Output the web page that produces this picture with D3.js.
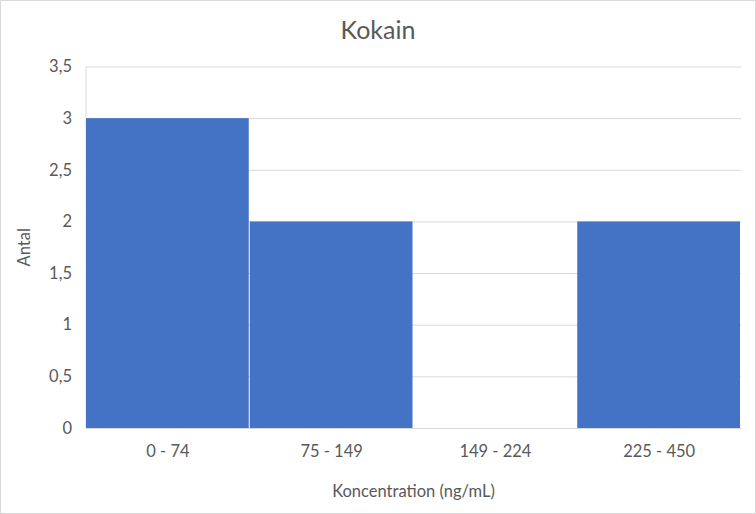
<!DOCTYPE html>
<html><head><meta charset="utf-8">
<script src="https://cdn.jsdelivr.net/npm/d3@7"></script>
<style>body{margin:0;background:#fff}svg{display:block}</style>
</head><body>
<script>
const categories = ["0 - 74", "75 - 149", "149 - 224", "225 - 450"];
const values = [3, 2, 0, 2];
const yTicks = [0, 0.5, 1, 1.5, 2, 2.5, 3, 3.5];
const title = "Kokain";
const xTitle = "Koncentration (ng/mL)";
const yTitle = "Antal";

const W = 756, H = 514;
const m = {left: 86, right: 15, top: 66.5, bottom: 86};
const font = "Lato, 'Open Sans', sans-serif";
const svg = d3.select("body").append("svg").attr("width", W).attr("height", H);
svg.append("rect").attr("x", 0.5).attr("y", 0.5).attr("width", W - 1).attr("height", H - 1)
  .attr("fill", "#fff").attr("stroke", "#d9d9d9");

const x = d3.scaleBand().domain(categories).range([m.left, W - m.right]).padding(0);
const y = d3.scaleLinear().domain([0, 3.5]).range([H - m.bottom, m.top]);
const fmt = d3.formatLocale({decimal: ",", thousands: ".", grouping: [3], currency: ["", ""]}).format("~g");

const gy = svg.append("g").attr("transform", `translate(${m.left},0)`)
  .call(d3.axisLeft(y).tickValues(yTicks).tickFormat(fmt).tickSize(-(W - m.left - m.right)).tickPadding(14));
gy.select(".domain").remove();
gy.selectAll(".tick line").attr("stroke", "#d9d9d9");
gy.selectAll(".tick text").attr("fill", "#595959").style("font-family", font).style("font-size", "16.5px");

svg.append("line").attr("x1", m.left).attr("x2", m.left).attr("y1", m.top).attr("y2", H - m.bottom).attr("stroke", "#d9d9d9");

svg.append("g").selectAll("rect").data(values).join("rect")
  .attr("x", (d, i) => x(categories[i]))
  .attr("width", x.bandwidth() - 1)
  .attr("y", d => y(d))
  .attr("height", d => y(0) - y(d))
  .attr("fill", "#4472c4");

const gx = svg.append("g").attr("transform", `translate(0,${H - m.bottom})`)
  .call(d3.axisBottom(x).tickSize(0).tickPadding(17));
gx.select(".domain").attr("stroke", "#d9d9d9");
gx.selectAll(".tick text").attr("fill", "#595959").style("font-family", font).style("font-size", "16.5px");

svg.append("text").attr("x", W / 2).attr("y", 39).attr("text-anchor", "middle")
  .attr("fill", "#595959").style("font-family", font).style("font-size", "25px").text(title);
svg.append("text").attr("x", (m.left + W - m.right) / 2 + 0).attr("y", 497).attr("text-anchor", "middle")
  .attr("fill", "#595959").style("font-family", font).style("font-size", "16.5px").text(xTitle);
svg.append("text").attr("transform", `translate(30,${(m.top + H - m.bottom) / 2}) rotate(-90)`)
  .attr("text-anchor", "middle").attr("fill", "#595959").style("font-family", font).style("font-size", "16.5px").text(yTitle);
</script>
</body></html>
